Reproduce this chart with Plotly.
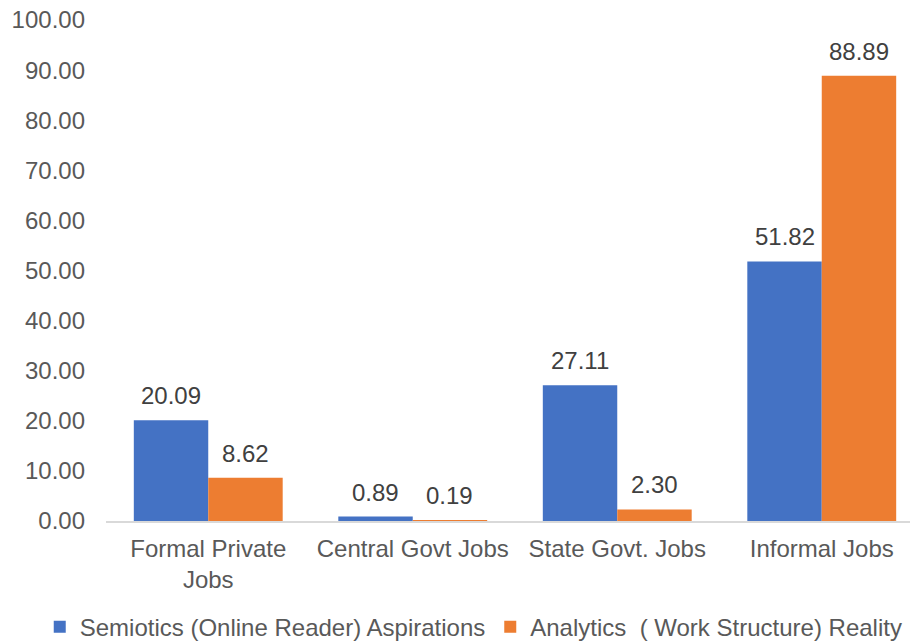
import plotly.graph_objects as go

categories = ["Formal Private<br>Jobs", "Central Govt Jobs", "State Govt. Jobs", "Informal Jobs"]
aspirations = [20.09, 0.89, 27.11, 51.82]
reality = [8.62, 0.19, 2.30, 88.89]
series_names = ["Semiotics (Online Reader) Aspirations", "Analytics\u00a0 ( Work Structure) Reality"]
y_ticks = [0, 10, 20, 30, 40, 50, 60, 70, 80, 90, 100]

FONT = "Liberation Sans, Arial, sans-serif"
BLUE = "#4472C4"
ORANGE = "#ED7D31"
FS = 24

fig = go.Figure()
fig.add_trace(go.Bar(x=categories, y=aspirations, name=series_names[0],
                     marker=dict(color=BLUE, line=dict(width=0))))
fig.add_trace(go.Bar(x=categories, y=reality, name=series_names[1],
                     marker=dict(color=ORANGE, line=dict(width=0))))

bargap = 0.272
half = (1 - bargap) / 4
annotations = []
for i, (a, r) in enumerate(zip(aspirations, reality)):
    for val, off in ((a, -half), (r, half)):
        annotations.append(dict(x=i + off, y=val, xref="x", yref="y", text=f"{val:.2f}",
                                showarrow=False, yanchor="bottom", yshift=9,
                                font=dict(family=FONT, size=FS, color="#404040")))

fig.update_layout(
    width=918, height=644,
    margin=dict(l=98, r=2, t=12, b=131, autoexpand=False),
    paper_bgcolor="white", plot_bgcolor="white",
    barmode="group", bargap=bargap, bargroupgap=0,
    font=dict(family=FONT, size=FS, color="#595959"),
    annotations=annotations,
    showlegend=True,
    legend=dict(orientation="h", xref="paper", x=-0.081, xanchor="left",
                yref="paper", y=-0.212, yanchor="middle",
                font=dict(family=FONT, size=FS, color="#595959"),
                itemwidth=30, tracegroupgap=0, bgcolor="rgba(0,0,0,0)"),
)
fig.update_xaxes(showline=True, linecolor="#D9D9D9", linewidth=1.5, showgrid=False,
                 ticks="", tickfont=dict(size=FS, color="#595959"), ticklabelstandoff=5)
fig.update_yaxes(range=[0, 100], tickvals=y_ticks, tickformat=".2f", showgrid=False,
                 zeroline=False, showline=False, ticks="", ticklabeloverflow="allow",
                 tickfont=dict(size=FS, color="#595959"), ticklabelstandoff=20)

fig.write_html("out.html")
